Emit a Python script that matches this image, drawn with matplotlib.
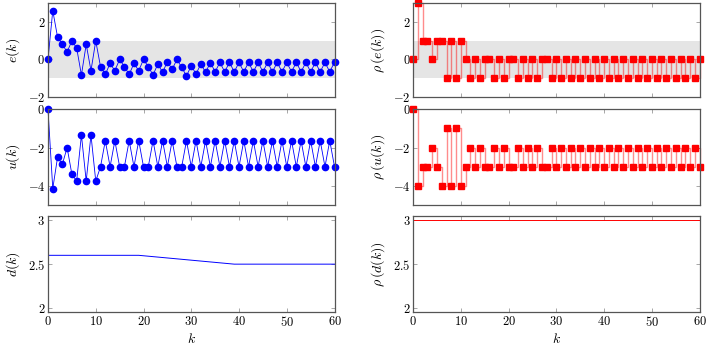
import numpy as np
import matplotlib
matplotlib.use("Agg")
import matplotlib.pyplot as plt
from matplotlib.ticker import FuncFormatter

plt.rcParams.update({"mathtext.fontset": "cm", "font.family": "serif",
                     "font.serif": ["DejaVu Serif"], "font.size": 8})

k = np.arange(61)

# e(k)
e_vals = [0.0, 2.58, 1.19, 0.80, 0.40, 0.98, 0.61, -0.82, 0.80, -0.59,
          0.98, -0.38, -0.79, -0.21, -0.59, 0.0, -0.38, -0.79, -0.21, -0.59,
          0.0, -0.38, -0.82, -0.24, -0.68, -0.12, -0.52, 0.0, -0.42, -0.87,
          -0.33, -0.77, -0.24, -0.68, -0.17, -0.65, -0.16, -0.65, -0.16, -0.65,
          -0.16, -0.65, -0.16, -0.65, -0.16, -0.65, -0.16, -0.65, -0.16, -0.65,
          -0.16, -0.65, -0.16, -0.65, -0.16, -0.65, -0.16, -0.65, -0.16, -0.65,
          -0.14]
rho_e = [0, 3, 1, 1, 0, 1, 1, -1, 1, -1,
         1, 0, -1, 0, -1, 0, 0, -1, 0, -1,
         0, 0, -1, 0, -1, 0, -1, 0, 0, -1,
         0, -1, 0, -1, 0, -1, 0, -1, 0, -1,
         0, -1, 0, -1, 0, -1, 0, -1, 0, -1,
         0, -1, 0, -1, 0, -1, 0, -1, 0, -1,
         0]

u_vals = [0.0, -4.14, -2.51, -2.88, -2.0, -3.39, -3.75, -1.34, -3.75, -1.34,
          -3.75, -3.0, -1.64, -3.0, -1.64, -3.0, -3.0, -1.64, -3.0, -1.64,
          -3.0, -3.0, -1.64, -3.0, -1.64, -3.0, -1.64, -3.0, -3.0, -1.64,
          -3.0, -1.64, -3.0, -1.64, -3.0, -1.64, -3.0, -1.64, -3.0, -1.64,
          -3.0, -1.64, -3.0, -1.64, -3.0, -1.64, -3.0, -1.64, -3.0, -1.64,
          -3.0, -1.64, -3.0, -1.64, -3.0, -1.64, -3.0, -1.64, -3.0, -1.64,
          -3.0]
rho_u = [0, -4, -3, -3, -2, -3, -4, -1, -4, -1,
         -4, -3, -2, -3, -2, -3, -3, -2, -3, -2,
         -3, -3, -2, -3, -2, -3, -2, -3, -3, -2,
         -3, -2, -3, -2, -3, -2, -3, -2, -3, -2,
         -3, -2, -3, -2, -3, -2, -3, -2, -3, -2,
         -3, -2, -3, -2, -3, -2, -3, -2, -3, -2,
         -3]

d_k = [0, 19, 39, 60]
d_vals = [2.6, 2.6, 2.5, 2.5]
rho_d_k = [0, 60]
rho_d = [3, 3]

fig = plt.figure(figsize=(7.11, 3.48), dpi=100)
cols = [0.0675, 0.581]
w = 0.403
rows = [(0.7204, 0.2718), (0.4109, 0.275), (0.1026, 0.2767)]
axs = [[fig.add_axes([c, b, w, h]) for c in cols] for (b, h) in rows]

fmt = FuncFormatter(lambda v, p: f"${v:g}$")

for i, fila in enumerate(axs):
    for ax in fila:
        ax.set_xlim(0, 60)
        ax.set_xticks(range(0, 61, 10))
        ax.tick_params(direction="in", top=True, right=True, length=3,
                       width=0.6, color="#999999", labelsize=9, pad=2)
        for s in ax.spines.values():
            s.set_color("#555555")
            s.set_linewidth(0.9)
        ax.yaxis.set_major_formatter(fmt)
        ax.xaxis.set_major_formatter(fmt)
        if i < 2:
            ax.tick_params(labelbottom=False)
        else:
            ax.set_xlabel("$k$", fontsize=10, labelpad=2)

# fila 1: error
for ax in axs[0]:
    ax.set_ylim(-2, 3)
    ax.set_yticks([-2, 0, 2])
    ax.fill_between([0, 60], -1, 1, color="#e5e5e5", lw=0, zorder=0)
axs[0][0].plot(k, e_vals, "-o", color="blue", lw=0.6, ms=4.5)
axs[0][1].step(k, rho_e, where="post", color="red", lw=1.0, alpha=0.45)
axs[0][1].plot(k, rho_e, "s", color="red", ms=4.5, lw=0)
axs[0][0].set_ylabel("$e(k)$", fontsize=10)
axs[0][1].set_ylabel(r"$\rho\,(e(k))$", fontsize=10)

# fila 2: control
for ax in axs[1]:
    ax.set_ylim(-5, 0)
    ax.set_yticks([-4, -2, 0])
axs[1][0].plot(k, u_vals, "-o", color="blue", lw=0.6, ms=4.5)
axs[1][1].step(k, rho_u, where="post", color="red", lw=1.0, alpha=0.45)
axs[1][1].plot(k, rho_u, "s", color="red", ms=4.5, lw=0)
axs[1][0].set_ylabel("$u(k)$", fontsize=10)
axs[1][1].set_ylabel(r"$\rho\,(u(k))$", fontsize=10)

# fila 3: d
for ax in axs[2]:
    ax.set_ylim(1.955, 3.045)
    ax.set_yticks([2, 2.5, 3])
axs[2][0].plot(d_k, d_vals, color="blue", lw=0.7)
axs[2][1].plot(rho_d_k, rho_d, color="red", lw=0.7)
axs[2][0].set_ylabel("$d(k)$", fontsize=10)
axs[2][1].set_ylabel(r"$\rho\,(d(k))$", fontsize=10)

for ax in axs[0] + axs[1]:
    for line in ax.lines:
        line.set_clip_on(False)

fig.savefig("out.png", dpi=100)
